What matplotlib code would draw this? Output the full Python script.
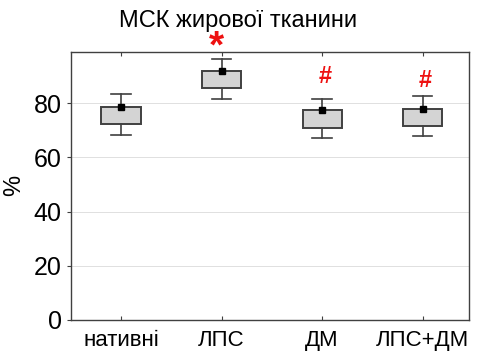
import matplotlib
matplotlib.use("Agg")
import matplotlib.pyplot as plt

# --- Data ---
groups = ["нативні", "ЛПС", "ДМ", "ЛПС+ДМ"]
means = [78.4, 91.9, 77.3, 77.9]
box_low = [72.2, 85.6, 71.0, 71.6]
box_high = [78.6, 92.0, 77.4, 78.0]
whisk_low = [68.3, 81.7, 67.0, 67.9]
whisk_high = [83.3, 96.3, 81.7, 82.5]
marks = ["", "*", "#", "#"]
mark_y = [0, 100.5, 89.8, 88.2]

title = "МСК жирової тканини"
yticks = [0, 20, 40, 60, 80]

plt.rcParams['font.family'] = ['Liberation Sans', 'DejaVu Sans']

fig = plt.figure(figsize=(4.78, 3.59), dpi=100)
ax = fig.add_axes([0.148, 0.109, 0.833, 0.747])

stats = []
for i in range(len(groups)):
    stats.append({
        "med": means[i], "q1": box_low[i], "q3": box_high[i],
        "whislo": whisk_low[i], "whishi": whisk_high[i], "fliers": [],
    })

edge = "#404040"
ax.bxp(stats, positions=range(len(groups)), widths=0.39, patch_artist=True,
       showfliers=False, showcaps=True,
       boxprops=dict(facecolor="#d4d4d4", edgecolor=edge, linewidth=1.4),
       whiskerprops=dict(color=edge, linewidth=1.2),
       capprops=dict(color=edge, linewidth=1.2),
       medianprops=dict(linewidth=0))

# mean markers
ax.plot(range(len(groups)), means, ls="none", marker="s", ms=5, color="black", zorder=5)

# significance marks
red = "#ee1111"
for i, m in enumerate(marks):
    if not m:
        continue
    if m == "*":
        ax.text(i - 0.05, mark_y[i], m, color=red, fontsize=28, fontweight="bold",
                ha="center", va="center", clip_on=False)
    else:
        ax.text(i + 0.03, mark_y[i], m, color=red, fontsize=17, fontweight="bold",
                ha="center", va="center", clip_on=False)

ax.set_xlim(-0.5, 3.46)
ax.set_ylim(0, 99)
ax.set_yticks(yticks)
ax.set_xticks(range(len(groups)))
ax.set_xticklabels(groups, fontsize=16)
ax.tick_params(axis="y", labelsize=18, length=3, width=0.8, color=edge, direction="out")
ax.tick_params(axis="x", length=3, width=0.8, color=edge, direction="in", top=True, pad=7)
ax.grid(axis="y", color="#e0e0e0", linewidth=0.7)
ax.set_axisbelow(True)
for s in ax.spines.values():
    s.set_color(edge)
    s.set_linewidth(1.0)

ax.set_ylabel("%", fontsize=17, labelpad=6)
ax.set_title(title, fontsize=17, pad=18, x=0.42)

fig.savefig("out.png", dpi=100)
